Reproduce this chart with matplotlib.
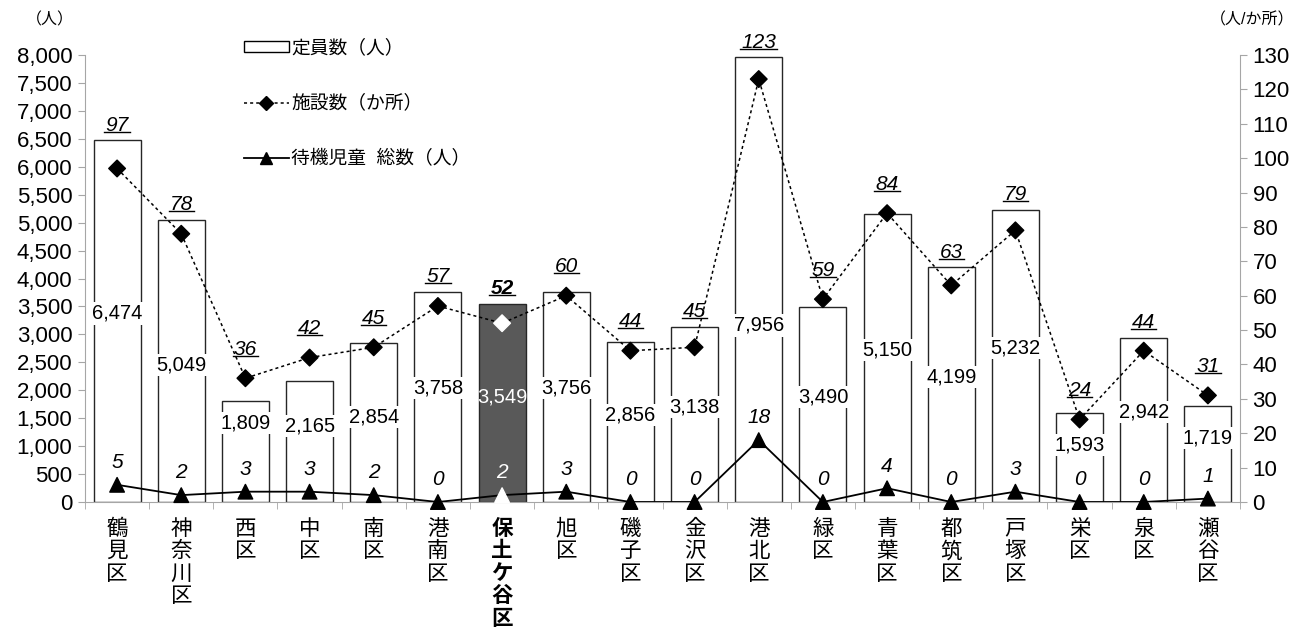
import matplotlib
matplotlib.use("Agg")
import matplotlib.pyplot as plt
from matplotlib.lines import Line2D
from matplotlib.patches import Patch
from matplotlib.ticker import FuncFormatter, MultipleLocator

# ---- data -------------------------------------------------------------
wards = ["鶴見区", "神奈川区", "西区", "中区", "南区", "港南区", "保土ケ谷区", "旭区",
         "磯子区", "金沢区", "港北区", "緑区", "青葉区", "都筑区", "戸塚区", "栄区",
         "泉区", "瀬谷区"]
capacity = [6474, 5049, 1809, 2165, 2854, 3758, 3549, 3756, 2856, 3138,
            7956, 3490, 5150, 4199, 5232, 1593, 2942, 1719]
facilities = [97, 78, 36, 42, 45, 57, 52, 60, 44, 45, 123, 59, 84, 63, 79, 24, 44, 31]
waiting = [5, 2, 3, 3, 2, 0, 2, 3, 0, 0, 18, 0, 4, 0, 3, 0, 0, 1]
highlight = "保土ケ谷区"

# vertical placement of the capacity labels inside the bars (left-axis units)
capacity_label_y = [3375, 2446, 1411, 1357, 1518, 2036, 1875, 2036, 1554, 1696,
                    3160, 1875, 2714, 2232, 2750, 1018, 1607, 1143]

FONTS = ["Liberation Sans", "Noto Sans CJK JP"]
plt.rcParams["font.family"] = FONTS
GRAY = "#a6a6a6"
DARK = "#595959"

W, H, DPI = 1309, 632, 100
fig = plt.figure(figsize=(W / DPI, H / DPI), dpi=DPI)
ax = fig.add_axes([85 / W, 1 - 502 / H, (1240 - 85) / W, (502 - 55) / H])
ax2 = ax.twinx()

x = list(range(len(wards)))
is_hl = [w == highlight for w in wards]

# ---- bars (capacity, left axis) --------------------------------------
ax.bar(x, capacity, width=0.73,
       color=[DARK if h else "white" for h in is_hl],
       edgecolor="#262626", linewidth=1.0, zorder=2)
ax.set_xlim(-0.5, len(wards) - 0.5)
ax.set_ylim(0, 8000)
ax.yaxis.set_major_locator(MultipleLocator(500))
ax.yaxis.set_major_formatter(FuncFormatter(lambda v, p: f"{int(v):,}"))

# ---- lines (right axis) ----------------------------------------------
ax2.set_ylim(0, 130)
ax2.yaxis.set_major_locator(MultipleLocator(10))
ax2.plot(x, facilities, color="black", lw=1.1, ls=(0, (2, 2)), zorder=3)
ax2.scatter(x, facilities, marker="D", s=72,
            c=["white" if h else "black" for h in is_hl],
            edgecolors=["white" if h else "black" for h in is_hl], zorder=4)
ax2.plot(x, waiting, color="black", lw=1.3, zorder=3)
ax2.scatter(x, waiting, marker="^", s=110,
            c=["white" if h else "black" for h in is_hl],
            edgecolors=["white" if h else "black" for h in is_hl], zorder=4,
            clip_on=False)

# ---- axes styling ----------------------------------------------------
for a in (ax, ax2):
    a.spines["top"].set_visible(False)
    a.spines["left"].set_color(GRAY)
    a.spines["right"].set_color(GRAY)
    a.spines["bottom"].set_color(GRAY)
ax.spines["right"].set_visible(False)
ax2.spines["left"].set_visible(False)
ax2.spines["bottom"].set_visible(False)

ax.tick_params(axis="y", length=5, color=GRAY, labelsize=16, pad=4)
ax2.tick_params(axis="y", length=5, color=GRAY, labelsize=16, pad=4)

ax.set_xticks(x)
ax.set_xticklabels(["\n".join(w) for w in wards], fontsize=15.5,
                   linespacing=1.1, va="top")
for lbl, h in zip(ax.get_xticklabels(), is_hl):
    if h:
        lbl.set_fontweight("bold")
ax.set_xticks([i - 0.5 for i in range(len(wards) + 1)], minor=True)
ax.tick_params(axis="x", which="major", length=0, pad=12)
ax.tick_params(axis="x", which="minor", length=5, color=GRAY)

# ---- labels ----------------------------------------------------------
for i, (c, yl, h) in enumerate(zip(capacity, capacity_label_y, is_hl)):
    ax2.text(i, yl * 130 / 8000, f"{c:,}", ha="center", va="center",
             fontsize=14.5, color="white" if h else "black", zorder=6,
             bbox=None if h else dict(boxstyle="square,pad=0.08",
                                      fc="white", ec="none"))

for i, (w, h) in enumerate(zip(waiting, is_hl)):
    ax2.annotate(str(w), (i, w), xytext=(0, 16), textcoords="offset points",
                 ha="center", va="center", fontsize=15, style="italic",
                 color="white" if h else "black", zorder=6,
                 annotation_clip=False)

fac_texts = []
for i, (f, c, h) in enumerate(zip(facilities, capacity, is_hl)):
    bar_top = c * 130 / 8000
    d_bar = ax2.transData.transform((i, bar_top))[1] + 12
    d_fac = ax2.transData.transform((i, f))[1] + 24
    if d_bar >= d_fac:
        anchor, off = bar_top, 4
    else:
        anchor, off = f, 14
    t = ax2.annotate(str(f), (i, anchor), xytext=(0, off),
                     textcoords="offset points", ha="center", va="bottom",
                     fontsize=15, style="italic",
                     fontweight="bold" if h else "normal", zorder=6)
    fac_texts.append(t)

fig.text(50 / W, 1 - 20 / H, "（人）", ha="center", va="center", fontsize=11.5)
fig.text(1252 / W, 1 - 20 / H, "（人/か所）", ha="center", va="center",
         fontsize=11.5)

# ---- legend ----------------------------------------------------------
handles = [
    Patch(facecolor="white", edgecolor="black", linewidth=1.0),
    Line2D([], [], color="black", lw=1.1, ls=(0, (2, 2)), marker="D",
           markersize=7),
    Line2D([], [], color="black", lw=1.3, marker="^", markersize=9),
]
labels = ["定員数（人）", "施設数（か所）", "待機児童  総数（人）"]
fig.legend(handles, labels, loc="upper left",
           bbox_to_anchor=(236 / W, 1 - 32 / H), frameon=False,
           fontsize=13.5, handlelength=2.45, handleheight=0.55,
           handletextpad=0.1, labelspacing=2.0, borderaxespad=0)

# ---- underline facility labels ---------------------------------------
fig.canvas.draw()
renderer = fig.canvas.get_renderer()
for t in fac_texts:
    bb = t.get_window_extent(renderer)
    y = bb.y0 + 3
    fig.add_artist(Line2D([(bb.x0 - 1) / W, (bb.x1 + 1) / W], [y / H, y / H],
                          transform=fig.transFigure, color="black", lw=1.0))

fig.savefig("out.png", dpi=DPI)
